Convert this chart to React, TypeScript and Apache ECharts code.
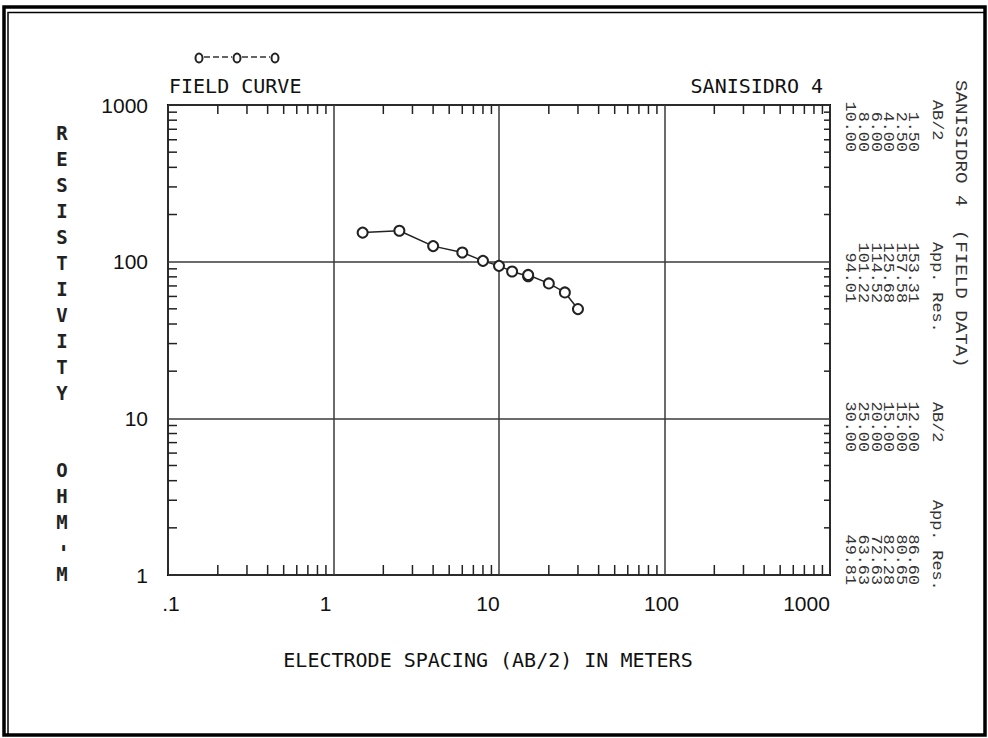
import React, { useEffect, useRef } from "react";
import * as echarts from "echarts";

// ---- data ----
const abHalf = [1.5, 2.5, 4, 6, 8, 10, 12, 15, 15, 20, 25, 30];
const appRes = [153.31, 157.58, 125.68, 114.52, 101.22, 94.01, 86.6, 80.65, 82.28, 72.63, 63.63, 49.81];
const xTickLabels = [".1", "1", "10", "100", "1000"];
const yTickLabels = ["1", "10", "100", "1000"];
const xDecades = [0.1, 1, 10, 100];
const yDecades = [1, 10, 100];
const minorMultipliers = [2, 3, 4, 5, 6, 7, 8, 9];
const sheetName = "SANISIDRO 4";
const curveName = "FIELD CURVE";
const xTitle = "ELECTRODE SPACING (AB/2) IN METERS";

const MONO = '"DejaVu Sans Mono", monospace';
const TMONO = '"Liberation Mono", monospace';

export default function App() {
  const ref = useRef<HTMLDivElement>(null);

  useEffect(() => {
    document.body.style.margin = "0";
    const chart = echarts.init(ref.current!, null, { renderer: "svg" });

    const tickData: number[][] = [];
    xDecades.forEach((d) =>
      minorMultipliers.forEach((m) => {
        tickData.push([d * m, 1, 0]);
        tickData.push([d * m, 1000, 1]);
      })
    );
    yDecades.forEach((d) =>
      minorMultipliers.forEach((m) => {
        tickData.push([0.1, d * m, 2]);
        tickData.push([1000, d * m, 3]);
      })
    );

    const labFont = { fontFamily: '"Liberation Sans", sans-serif', fontSize: 21, color: "#111" };

    const graphic: any[] = [];
    // outer frame
    graphic.push({
      type: "rect",
      shape: { x: 4, y: 7, width: 981, height: 728 },
      style: { fill: "none", stroke: "#000", lineWidth: 3.5 },
      silent: true,
    });
    graphic.push({
      type: "polyline",
      shape: { points: [[8, 735], [8, 12.5], [985, 12.5]] },
      style: { fill: "none", stroke: "#000", lineWidth: 1.5 },
      silent: true,
    });
    // legend symbol o--o--o
    [199, 237, 275].forEach((cx) =>
      graphic.push({
        type: "ellipse",
        shape: { cx, cy: 58, rx: 3.5, ry: 4.5 },
        style: { fill: "none", stroke: "#222", lineWidth: 2 },
        silent: true,
      })
    );
    [[204, 232], [242, 270]].forEach(([a, b]) =>
      graphic.push({
        type: "line",
        shape: { x1: a, y1: 57, x2: b, y2: 57 },
        style: { stroke: "#333", lineWidth: 1.5, lineDash: [6, 3] },
        silent: true,
      })
    );
    graphic.push({
      type: "text",
      x: 169,
      y: 86,
      style: { text: curveName, font: `20px ${MONO}`, fill: "#111", align: "left", verticalAlign: "middle" },
    });
    graphic.push({
      type: "text",
      x: 823,
      y: 86,
      style: { text: sheetName, font: `20px ${MONO}`, fill: "#111", align: "right", verticalAlign: "middle" },
    });
    // y-axis title, stacked letters
    graphic.push({
      type: "text",
      x: 62,
      y: 120,
      style: {
        text: "RESISTIVITY".split("").join("\n"),
        font: `bold 19px ${MONO}`,
        lineHeight: 26,
        fill: "#222",
        align: "center",
        verticalAlign: "top",
      },
    });
    graphic.push({
      type: "text",
      x: 62,
      y: 457,
      style: {
        text: "OHM".split("").join("\n"),
        font: `bold 19px ${MONO}`,
        lineHeight: 26,
        fill: "#222",
        align: "center",
        verticalAlign: "top",
      },
    });
    graphic.push({
      type: "text",
      x: 62,
      y: 548,
      rotation: Math.PI / 2,
      style: { text: "-", font: `bold 19px ${MONO}`, fill: "#222", align: "center", verticalAlign: "middle" },
    });
    graphic.push({
      type: "text",
      x: 62,
      y: 574,
      style: { text: "M", font: `bold 19px ${MONO}`, fill: "#222", align: "center", verticalAlign: "middle" },
    });
    // x-axis title
    graphic.push({
      type: "text",
      x: 488,
      y: 660,
      style: { text: xTitle, font: `20px ${MONO}`, fill: "#111", align: "center", verticalAlign: "middle" },
    });

    // right-hand rotated data table
    const rot = (text: string, x: number, y: number, size: number, align: string) => ({
      type: "text",
      x,
      y,
      rotation: -Math.PI / 2,
      scaleX: 1.2,
      style: { text, font: `${size}px ${TMONO}`, fill: "#333", align, verticalAlign: "middle" },
    });
    graphic.push(rot(`${sheetName}  (FIELD DATA)`, 961, 80, 16, "left"));
    const groups = [
      { start: 0, abY: 100, abEnd: 152, resHeadY: 242, resEnd: 303 },
      { start: 6, abY: 402, abEnd: 452, resHeadY: 500, resEnd: 585 },
    ];
    groups.forEach((g) => {
      graphic.push(rot("AB/2", 937, g.abY, 14, "left"));
      graphic.push(rot("App. Res.", 937, g.resHeadY, 14, "left"));
      for (let i = 0; i < 6; i++) {
        const x = 913 - i * 12.6;
        graphic.push(rot(abHalf[g.start + i].toFixed(2), x, g.abEnd, 14, "right"));
        graphic.push(rot(appRes[g.start + i].toFixed(2), x, g.resEnd, 14, "right"));
      }
    });

    const xRich: any = {};
    const pads = [[0, 0, 0, 6], [0, 16, 0, 0], [0, 22, 0, 0], [0, 6, 0, 0], [0, 47, 0, 0]];
    pads.forEach((p, i) => (xRich["s" + i] = { ...labFont, padding: p }));

    chart.setOption({
      animation: false,
      backgroundColor: "#fff",
      graphic,
      grid: {
        left: 168,
        top: 105,
        width: 662,
        height: 470,
        show: true,
        borderColor: "#000",
        borderWidth: 2,
        backgroundColor: "transparent",
      },
      xAxis: {
        type: "log",
        logBase: 10,
        min: 0.1,
        max: 1000,
        axisLine: { show: false },
        axisTick: { show: false },
        splitLine: { show: true, lineStyle: { color: "#3a3a3a", width: 1.5 } },
        axisLabel: {
          margin: 18,
          showMinLabel: true,
          showMaxLabel: true,
          ...labFont,
          formatter: (v: number) => {
            const i = Math.round(Math.log10(v)) + 1;
            return `{s${i}|${xTickLabels[i]}}`;
          },
          rich: xRich,
        },
      },
      yAxis: {
        type: "log",
        logBase: 10,
        min: 1,
        max: 1000,
        axisLine: { show: false },
        axisTick: { show: false },
        splitLine: { show: true, lineStyle: { color: "#3a3a3a", width: 1.5 } },
        axisLabel: {
          margin: 20,
          showMinLabel: true,
          showMaxLabel: true,
          ...labFont,
          formatter: (v: number) => yTickLabels[Math.round(Math.log10(v))],
        },
      },
      series: [
        {
          type: "custom",
          silent: true,
          clip: false,
          encode: { x: 0, y: 1 },
          data: tickData,
          renderItem: (_p: any, api: any) => {
            const side = api.value(2);
            const pt = api.coord([api.value(0), api.value(1)]);
            let x2 = pt[0];
            let y2 = pt[1];
            if (side === 0) y2 = pt[1] - 10;
            else if (side === 1) y2 = pt[1] + 9;
            else if (side === 2) x2 = pt[0] + 9;
            else x2 = pt[0] - 6;
            return {
              type: "line",
              shape: { x1: pt[0], y1: pt[1], x2, y2 },
              style: { stroke: "#222", lineWidth: 1.5 },
            };
          },
          z: 3,
        },
        {
          type: "line",
          data: abHalf.map((x, i) => [x, appRes[i]]),
          symbol: "emptyCircle",
          symbolSize: 10,
          itemStyle: { color: "#222", borderWidth: 1.5 },
          lineStyle: { color: "#222", width: 1.5 },
          z: 5,
        },
      ],
    });
    return () => chart.dispose();
  }, []);

  return (
    <div
      ref={ref}
      style={{ position: "absolute", left: 0, top: 0, width: 988, height: 738, background: "#fff" }}
    />
  );
}
